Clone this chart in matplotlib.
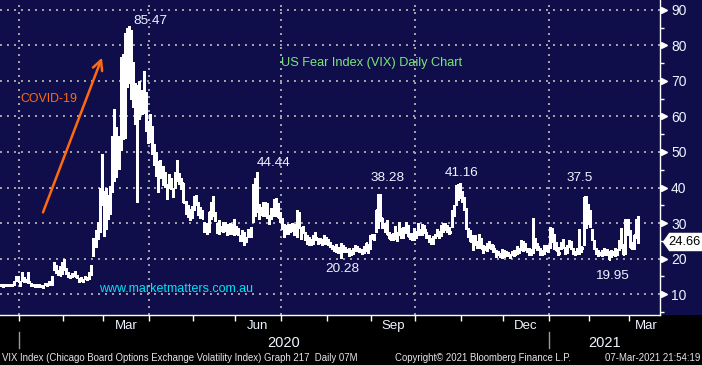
import numpy as np
import pandas as pd
import matplotlib
matplotlib.use('Agg')
import matplotlib.pyplot as plt
from matplotlib.patches import Rectangle, Polygon

plt.rcParams['font.family'] = ['Liberation Sans', 'DejaVu Sans']

# NYSE holidays inside the window, used to build the trading-day axis
HOLIDAYS = ['2019-12-25', '2020-01-01', '2020-01-20', '2020-02-17', '2020-04-10',
            '2020-05-25', '2020-07-03', '2020-09-07', '2020-11-26', '2020-12-25',
            '2021-01-01', '2021-01-18', '2021-02-15']

# daily VIX high / low / close, 18-Dec-2019 .. 05-Mar-2021 (one row per month)
high = [
    12.9, 12.8, 12.8, 12.9, 12.9, 12.9, 13.8, 15.1, 15.0,
    13.7, 16.2, 14.9, 14.2, 16.2, 13.0, 12.9, 12.7, 12.8, 12.9, 12.5, 12.5, 13.1, 13.0, 13.6, 15.0, 19.0, 18.3, 16.7, 18.0, 19.0,
    19.8, 17.3, 16.2, 15.3, 16.0, 16.4, 15.5, 14.6, 14.8, 14.2, 15.1, 14.9, 16.1, 18.2, 25.9, 28.1, 30.2, 39.8, 49.5,
    38.9, 39.9, 37.8, 40.3, 54.4, 62.1, 57.0, 54.6, 76.8, 77.6, 83.6, 84.8, 85.5, 84.3, 75.4, 69.4, 68.8, 69.9, 67.4, 72.9, 66.8, 58.8,
    60.6, 57.2, 52.3, 50.0, 47.6, 47.7, 46.0, 44.3, 40.9, 43.9, 42.7, 40.0, 44.5, 47.8, 44.0, 42.6, 41.2, 36.2, 35.2, 33.9, 34.8,
    37.6, 38.0, 35.9, 34.3, 33.6, 30.3, 29.9, 33.2, 36.0, 37.6, 33.1, 30.0, 30.9, 29.2, 30.3, 30.3, 29.8, 29.9, 29.7, 31.1,
    29.1, 28.5, 26.6, 27.9, 27.6, 26.1, 28.3, 28.9, 41.1, 42.6, 44.4, 35.3, 34.5, 35.8, 36.0, 35.5, 32.3, 34.1, 36.8, 37.0, 35.6, 33.0,
    31.3, 29.7, 29.5, 29.6, 29.7, 30.0, 29.8, 33.6, 33.2, 28.9, 29.3, 27.6, 26.6, 26.2, 25.6, 26.7, 27.4, 25.9, 25.9, 25.5, 26.5, 26.0,
    25.5, 24.6, 23.7, 23.6, 24.0, 23.3, 24.5, 23.8, 23.2, 22.7, 23.0, 22.5, 23.0, 23.9, 23.6, 23.1, 22.6, 23.4, 24.5, 24.1, 26.7,
    26.8, 26.9, 33.8, 38.3, 38.3, 31.4, 30.0, 30.9, 27.6, 26.8, 27.1, 29.3, 27.4, 30.2, 28.6, 29.0, 30.3, 29.4, 27.2, 27.2, 28.6,
    27.8, 29.9, 28.3, 29.7, 29.4, 27.5, 26.7, 25.9, 26.4, 27.0, 28.2, 27.6, 29.4, 30.0, 29.9, 29.4, 28.9, 33.8, 35.1, 40.8, 41.1, 41.2,
    38.9, 37.4, 34.2, 28.7, 28.0, 26.6, 26.6, 24.9, 26.9, 25.8, 23.9, 23.4, 24.5, 25.0, 24.2, 23.8, 22.4, 22.0, 21.6, 22.6,
    22.3, 22.1, 21.9, 21.4, 22.2, 22.3, 23.6, 22.9, 25.2, 24.9, 24.3, 22.9, 22.9, 22.6, 31.4, 25.8, 24.4, 23.0, 22.3, 23.8, 23.8, 23.8,
    28.8, 28.6, 26.8, 24.7, 23.2, 24.6, 25.4, 23.3, 23.7, 25.1, 24.8, 23.1, 22.1, 23.0, 28.2, 23.4, 37.2, 37.5, 35.3,
    33.7, 28.4, 25.3, 23.0, 22.3, 21.9, 22.4, 23.1, 22.8, 22.0, 22.5, 22.1, 23.1, 22.6, 25.3, 28.6, 24.0, 31.2, 31.2,
    27.9, 24.6, 26.7, 31.2, 32.0,
]
low = [
    12.2, 12.1, 12.2, 12.3, 12.4, 12.4, 12.6, 13.7, 13.6,
    12.4, 13.9, 13.4, 13.7, 13.2, 12.4, 12.3, 12.1, 12.0, 12.1, 12.0, 11.8, 12.6, 12.3, 12.5, 12.6, 16.9, 16.0, 15.3, 15.4, 15.6,
    16.8, 15.7, 14.7, 14.6, 14.8, 15.0, 14.5, 13.4, 13.6, 13.4, 14.2, 14.0, 14.2, 15.5, 20.6, 23.2, 25.5, 27.6, 35.0,
    26.4, 28.4, 31.0, 32.5, 38.6, 41.9, 43.0, 45.3, 50.5, 53.6, 54.0, 68.3, 69.4, 64.8, 62.7, 57.9, 36.0, 59.2, 60.6, 61.1, 55.8, 52.4,
    52.7, 49.3, 46.2, 43.2, 38.8, 42.8, 40.7, 40.1, 36.9, 40.0, 39.6, 37.4, 39.9, 41.8, 40.9, 39.7, 35.8, 32.6, 31.7, 30.9, 31.3,
    33.7, 35.1, 32.3, 31.5, 31.4, 27.6, 27.0, 27.4, 31.2, 32.0, 30.6, 27.1, 26.9, 27.9, 27.4, 27.9, 26.7, 26.8, 26.9, 26.6,
    27.0, 26.6, 24.9, 24.8, 23.8, 24.6, 26.2, 26.2, 30.3, 32.0, 33.0, 31.1, 32.2, 32.0, 31.9, 31.5, 29.8, 31.0, 32.0, 31.9, 31.6, 30.2,
    28.4, 26.1, 26.9, 27.0, 27.5, 27.8, 26.6, 26.1, 28.5, 25.6, 27.2, 25.1, 24.1, 23.9, 23.7, 24.1, 25.2, 24.1, 24.3, 23.8, 24.2, 24.0,
    23.7, 23.2, 22.6, 22.2, 21.9, 21.6, 20.28, 21.9, 21.9, 21.7, 20.6, 21.1, 21.3, 22.2, 22.1, 21.7, 21.4, 21.6, 22.0, 21.6, 22.8,
    25.5, 25.3, 27.6, 28.7, 30.7, 28.6, 27.5, 26.9, 25.8, 25.3, 25.1, 25.5, 24.8, 26.5, 25.7, 25.8, 27.2, 26.4, 25.6, 25.2, 25.2,
    25.8, 26.7, 26.5, 26.6, 27.2, 25.9, 24.7, 24.0, 24.2, 25.9, 26.4, 25.8, 26.3, 27.6, 28.1, 27.6, 26.9, 28.8, 31.9, 35.0, 36.6, 37.1,
    35.9, 33.7, 28.3, 26.1, 24.8, 22.4, 23.7, 23.0, 23.1, 23.0, 21.5, 22.4, 22.0, 23.0, 22.7, 21.9, 20.4, 20.9, 20.3, 20.2,
    20.3, 20.8, 20.8, 20.2, 20.9, 20.6, 21.4, 21.6, 22.3, 22.1, 22.5, 21.7, 21.0, 21.0, 21.6, 23.0, 22.5, 21.0, 21.1, 21.2, 22.1, 21.8,
    22.9, 24.7, 22.7, 22.3, 21.0, 22.8, 22.9, 21.3, 21.6, 23.2, 22.6, 21.4, 21.1, 21.4, 21.4, 21.9, 23.9, 28.5, 29.8,
    29.0, 25.1, 22.6, 21.4, 20.6, 20.9, 20.8, 21.0, 20.9, 19.95, 20.3, 21.0, 20.8, 21.0, 22.5, 22.9, 21.2, 21.3, 26.6,
    23.3, 22.8, 22.6, 25.8, 24.5,
]
close = [
    12.58, 12.50, 12.51, 12.61, 12.67, 12.65, 13.43, 14.82, 13.78,
    12.47, 14.02, 13.85, 13.79, 13.45, 12.54, 12.56, 12.32, 12.39, 12.42, 12.32, 12.10, 12.85, 12.91, 12.98, 14.56, 18.23, 16.28, 16.39, 15.49, 18.84,
    17.97, 16.05, 15.15, 14.96, 15.47, 15.04, 15.18, 13.74, 14.15, 13.68, 14.83, 14.38, 15.56, 17.08, 25.03, 27.85, 27.56, 39.16, 40.11,
    33.42, 36.82, 31.99, 39.62, 41.94, 54.46, 47.30, 53.90, 75.47, 57.83, 82.69, 75.91, 76.45, 72.00, 66.04, 61.59, 61.67, 63.95, 61.00, 65.54, 57.08, 53.54,
    57.06, 50.91, 46.80, 45.24, 46.70, 43.35, 41.67, 41.17, 37.76, 40.84, 40.11, 38.15, 43.83, 45.41, 41.98, 41.38, 35.93, 33.29, 33.57, 31.23, 34.15,
    37.19, 35.97, 33.61, 34.12, 31.44, 27.98, 27.57, 33.04, 35.28, 32.61, 31.89, 29.30, 30.53, 27.99, 29.53, 28.16, 28.01, 27.62, 28.59, 27.51,
    28.23, 26.84, 25.66, 25.81, 24.52, 25.81, 27.57, 27.57, 40.79, 36.09, 34.40, 33.67, 33.47, 32.94, 35.12, 31.77, 31.37, 33.84, 32.22, 34.73, 31.78, 30.43,
    28.62, 27.68, 27.94, 29.43, 28.08, 29.26, 27.29, 32.19, 29.52, 27.76, 28.00, 25.68, 24.46, 24.84, 24.32, 26.08, 25.84, 24.74, 25.44, 24.10, 24.76, 24.46,
    24.28, 23.76, 22.99, 22.65, 22.21, 22.13, 24.03, 22.28, 22.59, 22.05, 21.35, 21.51, 22.54, 22.72, 22.54, 22.37, 22.03, 23.27, 24.47, 22.96, 26.41,
    26.12, 26.57, 33.60, 30.75, 31.46, 28.81, 29.71, 26.87, 25.85, 25.59, 26.04, 26.46, 25.83, 27.78, 26.86, 28.58, 28.51, 26.38, 26.19, 26.27, 26.37,
    26.70, 27.63, 27.96, 29.48, 28.06, 26.36, 25.00, 25.07, 26.07, 26.40, 26.97, 27.41, 29.18, 29.35, 28.65, 28.11, 27.55, 32.46, 33.35, 40.28, 37.59, 38.02,
    37.13, 35.55, 29.57, 27.58, 24.86, 25.75, 24.80, 23.45, 25.35, 23.10, 22.45, 22.71, 23.84, 23.11, 23.70, 22.66, 21.64, 21.25, 20.84, 20.57,
    20.77, 21.17, 21.28, 20.79, 21.30, 21.20, 22.27, 22.52, 23.31, 24.72, 22.89, 22.50, 21.93, 21.57, 25.16, 24.23, 23.31, 21.53, 21.70, 23.08, 22.77, 22.75,
    26.97, 25.34, 25.07, 22.37, 21.56, 24.08, 23.33, 22.21, 23.25, 24.34, 23.24, 21.58, 21.32, 21.91, 23.19, 23.02, 37.21, 30.21, 33.09,
    30.24, 25.56, 22.91, 21.77, 20.87, 21.24, 21.63, 21.99, 21.25, 19.97, 21.46, 21.50, 22.49, 22.05, 23.45, 23.11, 21.34, 28.89, 27.95,
    23.35, 24.10, 26.67, 28.57, 24.66,
]

month_labels = ['Mar', 'Jun', 'Sep', 'Dec', 'Mar']
label_months = ['2020-03', '2020-06', '2020-09', '2020-12', '2021-03']
grid_months = ['2020-01', '2020-04', '2020-07', '2020-10', '2021-01']
year_labels = ['2020', '2021']
peak_labels = ['85.47', '44.44', '38.28', '41.16', '37.5']
trough_labels = ['20.28', '19.95']

NAVY = '#100e4a'
ORANGE = '#ff6a10'
TXT = '#eef4ff'

dates = pd.bdate_range('2019-12-18', '2021-03-05')
dates = dates[~dates.isin(pd.to_datetime(HOLIDAYS))]
assert len(dates) == len(high) == len(low) == len(close)
x = np.arange(len(dates))

periods = dates.to_period('M')
month_start = {}
for i, p in enumerate(periods):
    month_start.setdefault(str(p), i)

fig = plt.figure(figsize=(7.02, 3.65), dpi=100, facecolor='black')
W, H = 702, 365
fig.patches.append(Rectangle((0, 50 / H), 1, 315 / H, transform=fig.transFigure,
                             facecolor=NAVY, edgecolor='none', zorder=-5))
ax = fig.add_axes([0, 50 / H, 660 / W, 315 / H])
ax.set_facecolor(NAVY)
ax.set_xlim(-0.6, 314.5)
ax.set_ylim(4.1, 92.8)

# grid
gkw = dict(color='#a8a8a8', lw=1.4, ls=(0, (1, 2.6)), zorder=1)
for v in range(10, 91, 10):
    ax.axhline(v, **gkw)
for m in grid_months:
    ax.axvline(month_start[m] - 0.5, **gkw)

# OHLC-style bars
ax.vlines(x, low, high, color='white', lw=1.0, antialiased=False, zorder=3)
ax.hlines(close, x, x + 0.55, color='white', lw=1.0, antialiased=False, zorder=3)

# spines
for s in ['top', 'left']:
    ax.spines[s].set_visible(False)
for s in ['right', 'bottom']:
    ax.spines[s].set_color('white')
    ax.spines[s].set_linewidth(1.0)

# right axis
ax.yaxis.tick_right()
ax.set_yticks(range(10, 91, 10))
ax.set_yticks(range(5, 91, 10), minor=True)
ax.tick_params(axis='y', which='major', length=0, pad=8, labelsize=10, labelcolor=TXT)
ax.tick_params(axis='y', which='minor', length=3, width=1, color='white')
ax.plot(np.full(9, 1.006), range(10, 91, 10), ls='none', marker='>', ms=5,
        color='white', transform=ax.get_yaxis_transform(), clip_on=False, zorder=5)

# bottom axis: month boundary ticks, labels centred in month
ax.set_xticks([month_start[m] - 0.5 for m in month_start if m != '2019-12'])
ax.tick_params(axis='x', which='major', length=4, width=1, color='white', labelbottom=False)
xt = ax.get_xaxis_transform()
keys = list(month_start)
for lab, m in zip(month_labels, label_months):
    k = keys.index(m)
    nxt = month_start[keys[k + 1]] if k + 1 < len(keys) else month_start[m] + 16.5
    ax.text((month_start[m] + nxt) / 2 - 0.5, -11 / 315, lab, transform=xt,
            ha='center', va='center', fontsize=9.5, color=TXT)

y20 = month_start['2020-01'] - 0.5
y21 = month_start['2021-01'] - 0.5
for lab, cx in zip(year_labels, [(y20 + y21) / 2, (y21 + 314.5) / 2]):
    ax.text(cx, -28 / 315, lab, transform=xt, ha='center', va='center',
            fontsize=10.5, color=TXT)
for xv in [y20, y21]:
    ax.plot([xv, xv], [-17 / 315, -33 / 315], transform=xt, color='#9a9a9a',
            lw=1, clip_on=False)

# last price flag
yt = ax.get_yaxis_transform()
last = close[-1]
ax.add_patch(Polygon([(1.004, last), (1.014, last + 2.6), (1.07, last + 2.6),
                      (1.07, last - 2.6), (1.014, last - 2.6)], closed=True,
                     transform=yt, facecolor='white', edgecolor='none', clip_on=False, zorder=6))
ax.text(1.0365, last, f'{last:.2f}', transform=yt, ha='center', va='center',
        fontsize=9.3, color='black', zorder=7)

# annotations (axes fraction from pixel positions)
def fx(px):
    return px / 660

def fy(py):
    return 1 - py / 315

for lab, (px, py) in zip(peak_labels, [(150, 21), (274, 163), (388, 178), (462, 173), (580, 178)]):
    ax.text(fx(px), fy(py), lab, transform=ax.transAxes, ha='center', va='center',
            fontsize=9.7, color=TXT, zorder=6)
for lab, (px, py) in zip(trough_labels, [(342, 269), (612, 276)]):
    ax.text(fx(px), fy(py), lab, transform=ax.transAxes, ha='center', va='center',
            fontsize=9.7, color=TXT, zorder=6)

ax.text(fx(176), fy(289), 'www.marketmatters.com.au', transform=ax.transAxes,
        ha='center', va='center', fontsize=9, color='#00e4f4', zorder=6)
ax.text(fx(281), fy(63), 'US Fear Index (VIX) Daily Chart', transform=ax.transAxes,
        ha='left', va='center', fontsize=9.2, color='#78e878', zorder=6)
ax.text(fx(20), fy(99), 'COVID-19', transform=ax.transAxes,
        ha='left', va='center', fontsize=8.9, color=ORANGE, zorder=6)
ax.annotate('', xy=(fx(103), fy(55)), xytext=(fx(42), fy(215)), xycoords='axes fraction',
            arrowprops=dict(arrowstyle='->,head_length=0.7,head_width=0.35',
                            color=ORANGE, lw=1.8), zorder=6)

# footer
fkw = dict(fontsize=6.9, color='#e6e6e6', va='center')
fig.text(2 / W, 1 - 358 / H, 'VIX Index (Chicago Board Options Exchange Volatility Index) Graph 217  Daily 07M',
         ha='left', **fkw)
fig.text(395 / W, 1 - 358 / H, 'Copyright\u00a9 2021 Bloomberg Finance L.P.', ha='left', **fkw)
fig.text(700 / W, 1 - 358 / H, '07-Mar-2021 21:54:19', ha='right', **fkw)

fig.savefig('out.png', dpi=100, facecolor='black')
